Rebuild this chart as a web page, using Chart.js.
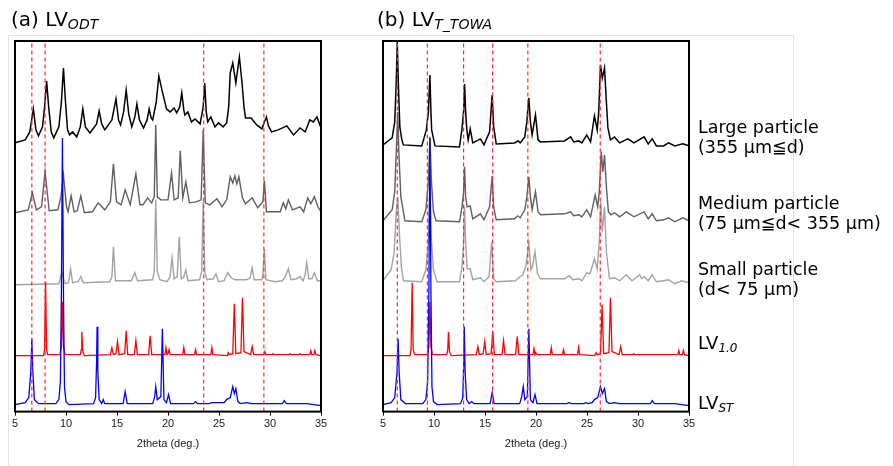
<!DOCTYPE html>
<html>
<head>
<meta charset="utf-8">
<script src="https://cdn.jsdelivr.net/npm/chart.js@4.4.1/dist/chart.umd.min.js"></script>
<style>
  body { margin: 0; background: #fff; width: 893px; height: 466px; overflow: hidden; position: relative; }
  canvas { position: absolute; top: 0; }
  #fig-box { position: absolute; left: 8px; top: 35px; width: 784px; height: 460px; border: 1px solid #e2e2e2; }
  .ttl { position: absolute; font-family: 'DejaVu Sans', Verdana, sans-serif; font-size: 20px; line-height: 20px; color: #000; white-space: nowrap; }
  .ttl sub { font-size: 14px; font-style: italic; vertical-align: -3px; line-height: 0; }
  .lv sub { font-size: 12px; font-style: italic; vertical-align: -3px; line-height: 0; }
  .lbl { position: absolute; left: 698px; font-family: 'DejaVu Sans', Verdana, sans-serif; font-size: 17.5px; line-height: 20px; color: #000; white-space: nowrap; }
  .lv { position: absolute; left: 698px; font-family: 'DejaVu Sans', Verdana, sans-serif; font-size: 18px; line-height: 18px; color: #000; }
</style>
</head>
<body>
<div id="fig-box"></div>
<canvas id="chart-odt" width="345" height="466" style="left:0px"></canvas>
<canvas id="chart-towa" width="345" height="466" style="left:368px"></canvas>

<div class="ttl" style="left:11px; top:9px">(a) LV<sub>ODT</sub></div>
<div class="ttl" style="left:377px; top:9px">(b) LV<sub>T_TOWA</sub></div>

<div class="lbl" style="top:117px">Large particle<br>(355 μm≦d)</div>
<div class="lbl" style="top:193px">Medium particle<br>(75 μm≦d&lt; 355 μm)</div>
<div class="lbl" style="top:259px">Small particle<br>(d&lt; 75 μm)</div>
<div class="lv" style="top:334px">LV<sub>1.0</sub></div>
<div class="lv" style="top:394px">LV<sub>ST</sub></div>

<script>
// 2theta (deg.) vs offset intensity (a.u., stacked)
const odtLarge = [[5.0,269],[6.0,272],[6.45,280],[6.8,303],[7.05,282],[7.3,276],[7.7,285],[7.9,305],[8.1,331],[8.3,305],[8.55,280],[8.8,274],[9.3,285],[9.55,310],[9.75,344],[9.95,310],[10.15,282],[10.35,277],[10.65,280],[11.05,275],[11.4,285],[11.65,303],[11.9,285],[12.35,279],[13.0,288],[13.25,301],[13.5,288],[13.8,282],[14.5,292],[14.9,313],[15.15,292],[15.35,287],[15.65,300],[15.9,322],[16.15,298],[16.45,285],[16.75,295],[16.95,308],[17.2,292],[17.6,284],[17.95,292],[18.15,303],[18.35,294],[18.5,292],[18.85,310],[19.1,336],[19.45,320],[19.85,303],[20.2,300],[20.6,304],[20.85,299],[21.15,305],[21.35,319],[21.55,302],[21.65,297],[21.95,300],[22.3,290],[22.65,293],[23.15,288],[23.45,305],[23.6,329],[23.75,300],[23.9,290],[24.2,295],[24.6,285],[24.95,289],[25.4,285],[25.75,289],[25.95,305],[26.1,339],[26.35,349],[26.65,329],[27.0,355],[27.25,330],[27.45,305],[27.6,294],[28.15,294],[28.7,287],[29.2,283],[29.45,290],[29.65,295],[29.85,286],[30.15,280],[30.8,282],[31.65,286],[32.3,277],[32.95,284],[33.45,280],[33.9,292],[34.25,290],[34.6,295],[35.0,284]];
const odtMedium = [[5.0,199],[6.3,202],[6.7,219],[7.1,202],[7.6,205],[7.95,240],[8.35,201],[9.2,202],[9.5,215],[9.75,237],[10.05,205],[10.2,200],[10.5,216],[10.8,200],[11.1,201],[11.45,216],[11.8,199],[12.6,200],[13.15,209],[13.8,202],[14.35,210],[14.65,248],[14.95,210],[15.4,207],[15.8,222],[16.3,207],[16.85,238],[17.25,207],[17.55,207],[18.0,214],[18.4,209],[18.65,215],[18.8,287],[18.95,215],[19.3,212],[19.7,212],[20.0,212],[20.35,239],[20.6,212],[21.0,214],[21.2,261],[21.45,214],[21.75,230],[22.1,209],[22.75,210],[23.25,212],[23.45,282],[23.65,209],[24.1,207],[24.8,213],[25.3,205],[25.75,212],[26.1,235],[26.35,229],[26.55,236],[26.75,228],[26.95,235],[27.3,214],[27.6,208],[28.25,214],[28.8,204],[29.3,210],[29.45,231],[29.65,200],[30.3,200],[31.0,200],[31.3,209],[31.55,203],[31.8,212],[32.2,202],[32.95,205],[33.3,200],[33.7,214],[34.0,208],[34.35,215],[34.7,205],[35.0,200]];
const odtSmall = [[5.0,127],[9.3,128],[9.6,140],[9.9,128],[10.25,129],[10.45,143],[10.65,129],[11.2,130],[11.45,135],[11.7,129],[14.3,130],[14.5,135],[14.65,165],[14.85,131],[16.4,131],[16.75,139],[17.0,131],[18.5,132],[18.65,140],[18.8,212],[18.95,140],[19.2,132],[19.9,130],[20.2,135],[20.4,154],[20.6,133],[20.9,135],[21.1,175],[21.3,133],[21.55,135],[21.75,142],[21.95,131],[23.1,132],[23.3,140],[23.45,210],[23.6,140],[23.8,132],[24.45,133],[24.7,138],[24.95,130],[25.5,131],[25.85,139],[26.2,134],[26.55,132],[27.7,132],[28.05,134],[28.25,144],[28.45,132],[29.2,132],[29.3,137],[29.45,163],[29.6,132],[30.5,130],[31.2,131],[31.5,135],[31.8,143],[32.05,132],[32.6,133],[32.95,135],[33.25,131],[33.45,137],[33.6,149],[33.8,133],[34.1,133],[34.35,139],[34.65,131],[35.0,131]];
const odtLv10 = [[5.0,56],[7.8,56],[7.9,62],[8.0,130],[8.1,62],[8.2,57],[9.4,57],[9.55,65],[9.65,110],[9.75,65],[9.9,57],[11.4,57],[11.5,62],[11.55,80],[11.65,60],[11.8,56],[14.35,57],[14.5,64],[14.65,57],[14.9,58],[15.05,70],[15.2,57],[15.75,58],[15.9,81],[16.05,57],[16.7,57],[16.85,71],[17.0,57],[18.1,57],[18.25,76],[18.4,57],[19.7,57],[19.8,64],[19.9,57],[20.0,58],[20.1,62],[20.2,57],[21.45,57],[21.55,64],[21.65,57],[22.6,57],[22.7,62],[22.8,57],[24.2,57],[24.3,64],[24.4,57],[25.8,56],[25.9,59],[26.0,57],[26.35,58],[26.5,108],[26.65,58],[27.15,59],[27.3,114],[27.45,60],[28.1,57],[28.25,65],[28.4,57],[29.4,57],[29.5,60],[29.6,57],[30.2,57],[30.3,58],[30.4,57],[31.85,57],[31.95,58],[32.05,57],[32.85,57],[32.95,58],[33.05,57],[33.9,57],[34.0,61],[34.1,57],[34.3,57],[34.4,61],[34.5,57],[35.0,56]];
const odtLvSt = [[5.0,7],[6.0,9],[6.35,14],[6.55,40],[6.65,73],[6.75,40],[6.9,12],[7.3,8],[9.0,8],[9.3,12],[9.45,30],[9.55,120],[9.65,274],[9.75,120],[9.85,25],[10.0,10],[10.3,7],[12.7,8],[12.9,14],[13.0,50],[13.05,85],[13.12,40],[13.25,12],[13.5,8],[13.65,12],[13.8,8],[15.6,8],[15.8,20],[16.0,8],[18.5,8],[18.7,15],[18.8,25],[18.95,12],[19.3,15],[19.45,83],[19.6,12],[19.85,9],[20.05,17],[20.25,8],[22.5,8],[22.7,10],[22.9,8],[24.0,8],[24.3,9],[25.5,9],[25.75,12],[26.1,14],[26.35,25],[26.5,18],[26.65,23],[26.85,10],[27.1,8],[27.7,9],[28.2,8],[31.2,8],[31.4,11],[31.6,8],[33.6,8],[35.0,6]];
const odtDashes = [6.65, 7.95, 23.5, 29.4];

const towaLarge = [[5.0,267],[5.9,274],[6.15,290],[6.3,330],[6.4,370],[6.5,330],[6.65,285],[6.85,272],[7.0,267],[8.8,266],[9.25,282],[9.45,300],[9.6,337],[9.7,300],[9.77,282],[10.1,266],[12.5,265],[12.73,282],[12.9,300],[13.0,328],[13.1,300],[13.22,282],[13.35,272],[13.55,283],[13.8,269],[14.55,273],[14.9,267],[15.45,280],[15.7,317],[15.85,285],[16.1,268],[17.9,269],[18.25,271],[18.45,269],[18.9,275],[19.1,290],[19.3,314],[19.45,290],[19.62,277],[19.95,297],[20.2,272],[20.45,270],[22.8,271],[23.4,275],[23.7,270],[24.2,271],[24.5,269],[24.97,277],[25.35,270],[25.73,296],[26.0,282],[26.15,300],[26.32,347],[26.5,334],[26.72,344],[26.9,310],[27.05,284],[27.3,272],[27.7,275],[28.2,269],[29.0,273],[29.6,269],[30.6,275],[31.0,268],[31.4,273],[31.8,266],[32.5,266],[33.0,269],[33.6,266],[34.4,268],[35.0,266]];
const towaMedium = [[5.0,191],[5.9,202],[6.15,220],[6.3,260],[6.45,300],[6.55,260],[6.75,215],[7.15,191],[8.8,190],[9.2,202],[9.45,230],[9.6,275],[9.75,230],[9.95,200],[10.2,191],[12.5,190],[12.75,205],[12.9,220],[13.0,245],[13.1,215],[13.25,205],[13.55,206],[13.8,193],[14.55,198],[14.9,192],[15.45,205],[15.7,236],[15.85,205],[16.1,192],[17.9,193],[18.2,196],[18.45,194],[18.9,202],[19.1,215],[19.3,235],[19.45,215],[19.62,202],[19.95,220],[20.2,200],[20.45,197],[22.8,198],[23.4,200],[23.7,196],[24.2,197],[24.5,195],[24.97,202],[25.35,195],[25.8,217],[26.05,205],[26.2,220],[26.4,260],[26.55,240],[26.72,257],[26.9,225],[27.1,200],[27.35,197],[27.7,199],[28.2,195],[28.85,200],[29.6,195],[30.6,200],[31.0,193],[31.4,198],[31.8,191],[32.5,192],[33.0,194],[33.6,190],[34.4,194],[35.0,191]];
const towaSmall = [[5.0,131],[5.8,142],[6.1,160],[6.3,200],[6.45,215],[6.6,180],[6.8,145],[7.0,131],[8.8,130],[9.2,142],[9.45,170],[9.6,225],[9.75,170],[9.95,142],[10.3,130],[12.5,130],[12.75,145],[12.9,170],[13.0,205],[13.1,170],[13.25,143],[13.55,143],[13.8,132],[14.55,134],[14.9,130],[15.4,135],[15.65,170],[15.85,133],[16.1,130],[18.0,131],[18.3,134],[18.7,137],[19.0,145],[19.3,169],[19.5,142],[19.65,145],[19.9,160],[20.15,138],[20.45,133],[22.8,133],[23.25,136],[23.6,132],[24.2,133],[24.5,131],[24.97,139],[25.3,138],[25.73,153],[26.0,143],[26.2,170],[26.35,210],[26.5,180],[26.72,205],[26.9,160],[27.2,133],[27.7,134],[28.2,131],[28.85,137],[29.4,131],[30.17,137],[30.35,133],[30.6,135],[31.0,131],[31.4,137],[31.8,130],[32.5,131],[33.0,132],[33.6,128],[34.3,131],[35.0,129]];
const towaLv10 = [[5.0,56],[7.65,56],[7.75,62],[7.86,129],[7.96,62],[8.1,57],[9.35,57],[9.5,65],[9.6,110],[9.7,65],[9.85,57],[11.25,57],[11.35,62],[11.42,80],[11.52,60],[11.7,56],[14.15,57],[14.3,65],[14.45,57],[14.82,58],[14.97,70],[15.12,57],[15.6,58],[15.76,80],[15.92,57],[16.67,57],[16.82,71],[16.97,57],[18.0,57],[18.16,75],[18.32,57],[19.7,57],[19.8,63],[19.9,57],[19.97,59],[20.1,57],[21.4,57],[21.5,64],[21.6,57],[22.6,57],[22.7,62],[22.8,57],[24.08,57],[24.18,64],[24.28,57],[25.75,56],[25.9,59],[26.0,57],[26.33,58],[26.48,107],[26.63,58],[27.15,59],[27.3,114],[27.45,60],[28.15,57],[28.3,65],[28.45,57],[29.48,57],[29.58,58],[29.68,57],[31.9,57],[32.0,57],[32.1,57],[33.9,57],[34.0,61],[34.1,57],[34.35,57],[34.45,61],[34.55,57],[35.0,56]];
const towaLvSt = [[5.0,7],[5.8,9],[6.15,14],[6.38,40],[6.48,73],[6.58,40],[6.75,12],[7.2,8],[8.9,8],[9.2,12],[9.38,30],[9.5,120],[9.6,274],[9.7,120],[9.8,25],[9.95,10],[10.3,7],[12.6,8],[12.82,14],[12.92,50],[12.97,85],[13.05,40],[13.2,12],[13.45,8],[13.7,10],[13.9,8],[15.5,8],[15.7,19],[15.9,8],[18.4,8],[18.6,15],[18.75,25],[18.9,12],[19.15,15],[19.3,83],[19.45,12],[19.7,9],[19.9,17],[20.1,8],[23.0,8],[23.25,9],[23.5,8],[24.7,8],[24.9,9],[25.1,8],[25.5,9],[25.73,12],[26.05,14],[26.32,25],[26.5,18],[26.72,23],[26.9,10],[27.2,8],[27.7,9],[28.2,8],[31.2,8],[31.4,11],[31.6,8],[33.6,8],[35.0,6]];
const towaDashes = [6.4, 9.35, 12.9, 15.75, 19.2, 26.3];

const xTicks = [5, 10, 15, 20, 25, 30, 35];

const toPoints = arr => arr.map(p => ({ x: p[0], y: p[1] }));

const framePlugin = {
    id: 'frame',
    afterDraw(chart) {
        const { ctx, chartArea } = chart;
        ctx.save();
        ctx.strokeStyle = '#000';
        ctx.lineWidth = 2;
        ctx.strokeRect(chartArea.left, chartArea.top, chartArea.right - chartArea.left, chartArea.bottom - chartArea.top);
        ctx.restore();
    }
};

function trace(data, color, width, order) {
    return {
        data: toPoints(data),
        borderColor: color,
        borderWidth: width,
        pointRadius: 0,
        tension: 0,
        fill: false,
        order: order,
    };
}

function dashLine(x) {
    return {
        data: [{ x: x, y: 0 }, { x: x, y: 371 }],
        borderColor: '#ff2a2a',
        borderWidth: 1.2,
        borderDash: [4, 3],
        pointRadius: 0,
        fill: false,
        order: 0,
    };
}

function makePanel(id, large, medium, small, lv10, lvst, dashes) {
    const ctx = document.getElementById(id).getContext('2d');
    new Chart(ctx, {
        type: 'line',
        data: {
            datasets: [
                ...dashes.map(dashLine),
                trace(lvst, '#0000ff', 1.3, 1),
                trace(lv10, '#ff0000', 1.3, 2),
                trace(small, '#a3a3a3', 1.4, 3),
                trace(medium, '#5f5f5f', 1.4, 4),
                trace(large, '#000000', 1.5, 5),
            ]
        },
        options: {
            responsive: false,
            animation: false,
            devicePixelRatio: 1,
            layout: { padding: { left: 15, right: 24, top: 41, bottom: 15 } },
            plugins: {
                legend: { display: false },
                tooltip: { enabled: false },
            },
            scales: {
                x: {
                    type: 'linear',
                    min: 5,
                    max: 35,
                    afterBuildTicks: axis => { axis.ticks = xTicks.map(v => ({ value: v })); },
                    grid: { drawOnChartArea: false, drawTicks: true, tickLength: 4, color: '#000' },
                    border: { display: false },
                    ticks: {
                        color: '#222',
                        padding: 2,
                        maxRotation: 0,
                        font: { family: "'Liberation Sans Narrow', 'Liberation Sans', Arial", size: 11 },
                    },
                    title: {
                        display: true,
                        text: '2theta (deg.)',
                        color: '#222',
                        padding: { top: 5, bottom: 0 },
                        font: { family: "'Liberation Sans Narrow', 'Liberation Sans', Arial", size: 11 },
                    }
                },
                y: {
                    display: false,
                    min: 0,
                    max: 371,
                }
            }
        },
        plugins: [framePlugin],
    });
}

makePanel('chart-odt', odtLarge, odtMedium, odtSmall, odtLv10, odtLvSt, odtDashes);
makePanel('chart-towa', towaLarge, towaMedium, towaSmall, towaLv10, towaLvSt, towaDashes);
</script>
</body>
</html>
